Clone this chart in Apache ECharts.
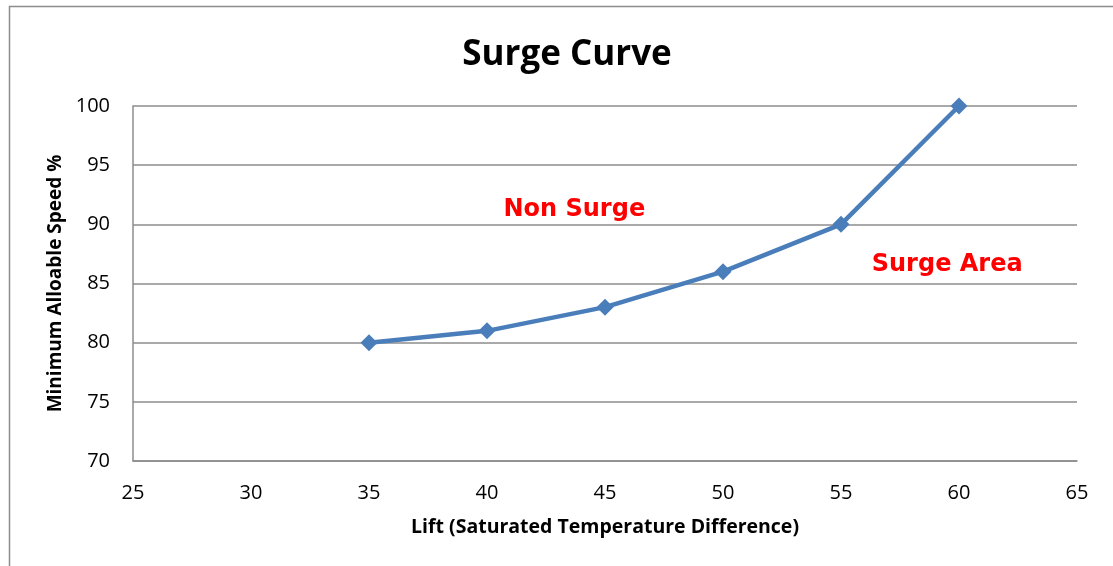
<!DOCTYPE html>
<html>
<head>
<meta charset="utf-8">
<script src="https://cdn.jsdelivr.net/npm/echarts@6/dist/echarts.min.js"></script>
<style>html,body{margin:0;padding:0;background:#fff;}#c{width:1113px;height:566px;}</style>
</head>
<body>
<div id="c"></div>
<script>
const lift = [35, 40, 45, 50, 55, 60];
const speed = [80, 81, 83, 86, 90, 100];
const annotations = [
  { text: 'Non Surge', x: 43.7, y: 91.25 },
  { text: 'Surge Area', x: 59.5, y: 86.55 }
];
const title = 'Surge Curve';
const xName = 'Lift (Saturated Temperature Difference)';
const yName = 'Minimum Alloable Speed %';

const chart = echarts.init(document.getElementById('c'), null, { renderer: 'canvas' });
const font = '"Open Sans", Lato, sans-serif';
chart.setOption({
  animation: false,
  backgroundColor: '#fff',
  title: {
    text: title, left: 562, textAlign: 'center', top: 33,
    textStyle: { fontFamily: font, fontWeight: 'bold', fontSize: 35, color: '#000' }
  },
  graphic: [{
    type: 'rect', shape: { x: 9.5, y: 6.5, width: 1200, height: 700 },
    style: { fill: 'none', stroke: '#8c8c8c', lineWidth: 1.5 }, silent: true
  }],
  grid: { left: 133, right: 36, top: 106, bottom: 105 },
  xAxis: {
    type: 'value', min: 25, max: 65, interval: 5,
    name: xName, nameLocation: 'middle', nameGap: 56,
    nameTextStyle: { fontFamily: font, fontWeight: 'bold', fontSize: 19.5, color: '#000' },
    axisLine: { show: true, lineStyle: { color: '#8c8c8c', width: 1.5 } },
    axisTick: { show: false },
    splitLine: { show: false },
    axisLabel: { fontFamily: font, fontSize: 20, color: '#000', margin: 22 }
  },
  yAxis: {
    type: 'value', min: 70, max: 100, interval: 5,
    name: yName, nameLocation: 'middle', nameGap: 68,
    nameTextStyle: { fontFamily: font, fontWeight: 'bold', fontSize: 19, color: '#000' },
    axisLine: { show: true, lineStyle: { color: '#8c8c8c', width: 1.5 } },
    axisTick: { show: false },
    splitLine: { show: true, lineStyle: { color: '#8c8c8c', width: 1.5 } },
    axisLabel: { fontFamily: font, fontSize: 20, color: '#000', margin: 23 }
  },
  series: [{
    type: 'line',
    data: lift.map((x, i) => [x, speed[i]]),
    symbol: 'diamond', symbolSize: 17,
    itemStyle: { color: '#4a7ebb' },
    lineStyle: { color: '#4a7ebb', width: 4.5 },
    markPoint: {
      symbol: 'circle', symbolSize: 0,
      label: {
        show: true, position: 'inside', color: '#ff0000',
        fontFamily: '"DejaVu Sans", sans-serif', fontWeight: 'bold', fontSize: 24,
        formatter: p => p.name
      },
      data: annotations.map(a => ({ name: a.text, coord: [a.x, a.y] }))
    }
  }]
});
</script>
</body>
</html>
